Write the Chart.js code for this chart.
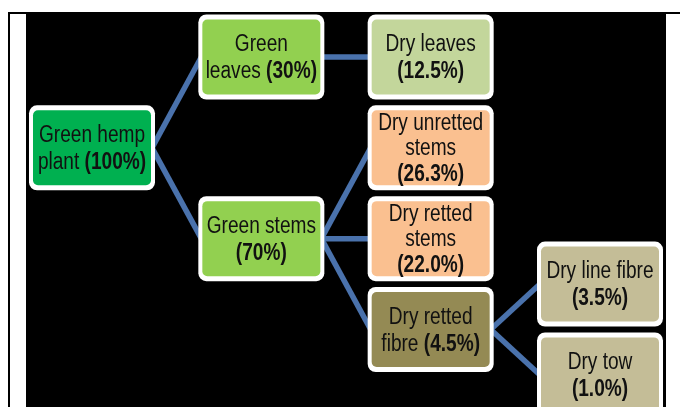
<!DOCTYPE html>
<html>
<head>
<meta charset="utf-8">
<script src="https://cdn.jsdelivr.net/npm/chart.js@4.4.1/dist/chart.umd.min.js"></script>
<style>
  body { margin: 0; background: #fff; }
  canvas { display: block; }
</style>
</head>
<body>
<canvas id="flowChart" width="680" height="407"></canvas>
<script>
// hemp mass balance: each stage and its share of the green plant
const nodeNames = ['Green hemp plant', 'Green leaves', 'Green stems', 'Dry leaves', 'Dry unretted stems', 'Dry retted stems', 'Dry retted fibre', 'Dry line fibre', 'Dry tow'];
const nodeShares = [100, 30, 70, 12.5, 26.3, 22.0, 4.5, 3.5, 1.0];
const shareDigits = [0, 0, 0, 1, 1, 1, 1, 1, 1];
const nodeParent = [-1, 0, 0, 1, 2, 2, 2, 6, 6];
// stage = column, row = slot in the column
const nodeStage = [0, 1, 1, 2, 2, 2, 2, 3, 3];
const nodeRow = [1, 0, 2, 0, 1, 2, 3, 2.5, 3.5];
// how the name is wrapped, and whether the share sits on the last line
const nodeText = [['Green hemp', 'plant '], ['Green', 'leaves '], ['Green stems'], ['Dry leaves'], ['Dry unretted', 'stems'], ['Dry retted', 'stems'], ['Dry retted', 'fibre '], ['Dry line fibre'], ['Dry tow']];
const shareInline = [true, true, false, false, false, false, true, false, false];

const fillColors = ['#00B050', '#92D050', '#92D050', '#C3D69B', '#FAC090', '#FAC090', '#948A54', '#C4BD97', '#C4BD97'];
const LINK_COLOR = '#4A72AC';
const BOX_W = 126, BOX_H = 85;
const FONT = '"Liberation Sans", Arial, sans-serif';
const SQUEEZE = 0.83; // narrow-font look
const STRETCH = 1.05;

function roundRect(ctx, x, y, w, h, r) {
    ctx.beginPath();
    ctx.moveTo(x + r, y);
    ctx.arcTo(x + w, y, x + w, y + h, r);
    ctx.arcTo(x + w, y + h, x, y + h, r);
    ctx.arcTo(x, y + h, x, y, r);
    ctx.arcTo(x, y, x + w, y, r);
    ctx.closePath();
}

const backdrop = {
    id: 'backdrop',
    beforeDraw(chart) {
        const ctx = chart.ctx;
        ctx.save();
        ctx.fillStyle = '#fff';
        ctx.fillRect(0, 0, chart.width, chart.height);
        ctx.fillStyle = '#000';
        ctx.fillRect(8, 12, chart.width - 8, 2);
        ctx.fillRect(8, 12, 2, chart.height - 12);
        ctx.fillRect(26, 12, 640, chart.height - 12);
        ctx.restore();
    }
};

const treeBoxes = {
    id: 'treeBoxes',
    beforeDatasetsDraw(chart) {
        const ctx = chart.ctx, xs = chart.scales.x, ys = chart.scales.y;
        ctx.save();
        ctx.strokeStyle = LINK_COLOR;
        ctx.lineWidth = 5.5;
        nodeParent.forEach((p, i) => {
            if (p < 0) return;
            ctx.beginPath();
            ctx.moveTo(xs.getPixelForValue(nodeStage[p]) + BOX_W / 2 - 3, ys.getPixelForValue(nodeRow[p]));
            ctx.lineTo(xs.getPixelForValue(nodeStage[i]) - BOX_W / 2 + 3, ys.getPixelForValue(nodeRow[i]));
            ctx.stroke();
        });
        ctx.restore();
    },
    afterDatasetsDraw(chart) {
        const ctx = chart.ctx, xs = chart.scales.x, ys = chart.scales.y;
        nodeNames.forEach((name, i) => {
            const cx = xs.getPixelForValue(nodeStage[i]);
            const cy = ys.getPixelForValue(nodeRow[i]);
            const x0 = cx - BOX_W / 2, y0 = cy - BOX_H / 2;
            ctx.save();
            ctx.fillStyle = '#fff';
            roundRect(ctx, x0, y0, BOX_W, BOX_H, 8);
            ctx.fill();
            ctx.fillStyle = fillColors[i];
            roundRect(ctx, x0 + 4, y0 + 5, BOX_W - 8, BOX_H - 10, 5);
            ctx.fill();

            const share = '(' + nodeShares[i].toFixed(shareDigits[i]) + '%)';
            const lines = nodeText[i].map(t => [t, '']);
            if (shareInline[i]) lines[lines.length - 1][1] = share;
            else lines.push(['', share]);
            const gap = lines.length === 3 ? 25.5 : 27;
            ctx.translate(cx, cy);
            ctx.scale(SQUEEZE, STRETCH);
            ctx.fillStyle = '#111';
            ctx.textBaseline = 'middle';
            ctx.textAlign = 'left';
            lines.forEach((ln, k) => {
                const ty = (1 + (k - (lines.length - 1) / 2) * gap) / STRETCH;
                ctx.font = '23px ' + FONT;
                const w1 = ctx.measureText(ln[0]).width;
                ctx.font = 'bold 23px ' + FONT;
                const w2 = ctx.measureText(ln[1]).width;
                const tx = -(w1 + w2) / 2;
                ctx.font = '23px ' + FONT;
                ctx.fillText(ln[0], tx, ty);
                ctx.font = 'bold 23px ' + FONT;
                ctx.fillText(ln[1], tx + w1, ty);
            });
            ctx.restore();
        });
    }
};

new Chart(document.getElementById('flowChart'), {
    type: 'scatter',
    data: {
        labels: nodeNames,
        datasets: [{
            label: 'Share of green plant (%)',
            data: nodeNames.map((n, i) => ({ x: nodeStage[i], y: nodeRow[i], share: nodeShares[i] })),
            pointRadius: 0,
            pointHoverRadius: 0
        }]
    },
    options: {
        responsive: false,
        animation: false,
        devicePixelRatio: 1,
        layout: { padding: 0 },
        plugins: { legend: { display: false }, tooltip: { enabled: false } },
        scales: {
            x: { type: 'linear', display: false, min: -0.5433, max: 3.4724 },
            y: { type: 'linear', display: false, reverse: true, min: -0.6275, max: 3.8534 }
        }
    },
    plugins: [backdrop, treeBoxes]
});
</script>
</body>
</html>
